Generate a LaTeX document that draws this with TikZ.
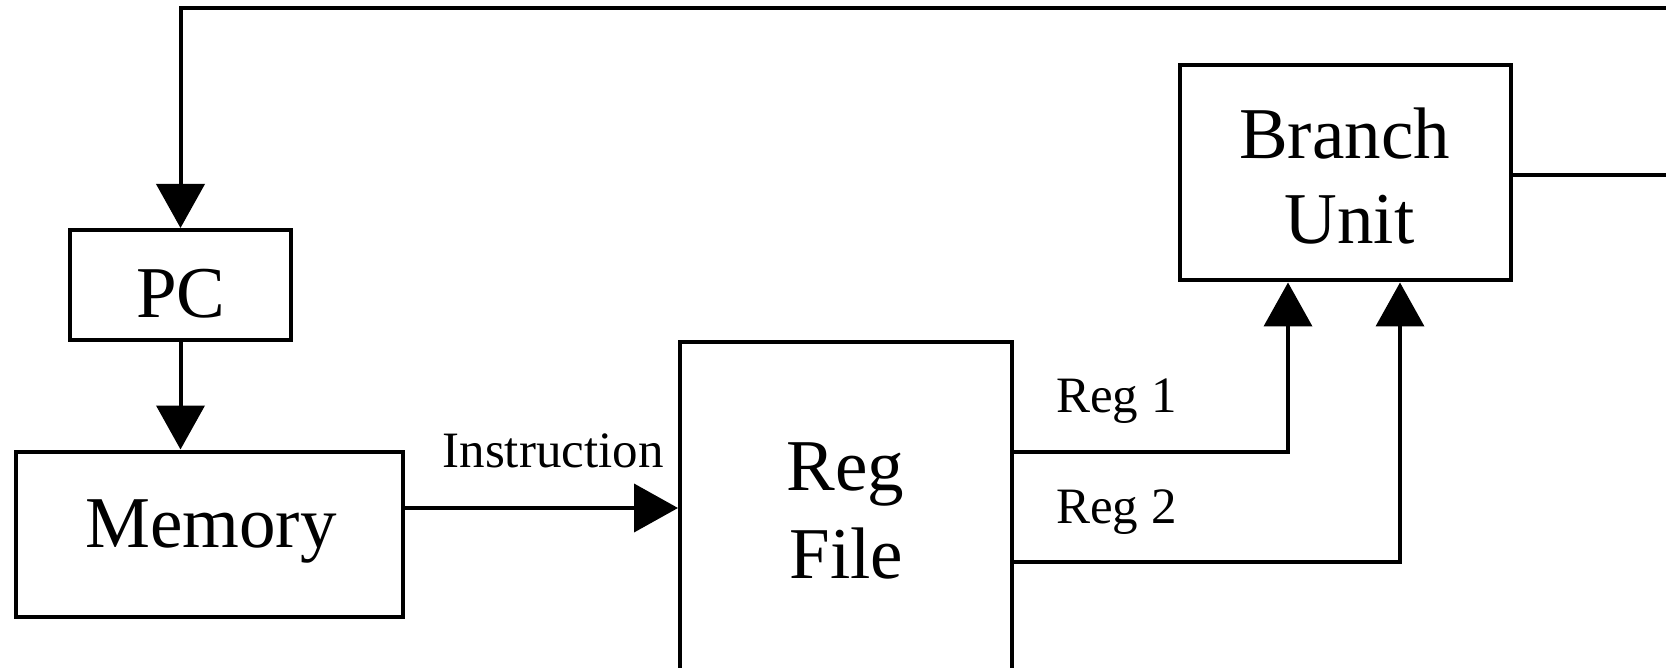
\documentclass[tikz,border=0pt]{standalone}
\usepackage{fontspec}
\setmainfont{Liberation Serif}
\usetikzlibrary{arrows.meta}
\tikzset{
  box/.style={draw, line width=4pt, inner sep=0pt},
  big/.style={font=\fontsize{73}{85}\selectfont, inner sep=0pt, anchor=base},
  small/.style={font=\fontsize{51}{60}\selectfont, inner sep=0pt},
  wire/.style={line width=4pt},
  arr/.style={wire, -{Triangle[length=44pt,width=48pt]}},
}
\begin{document}
\begin{tikzpicture}[x=1pt,y=-1pt]
\clip (0,0) rectangle (1666,668);
% boxes
\node[box, minimum width=221pt, minimum height=110pt] (pc) at (180.5,285) {};
\node[box, minimum width=387pt, minimum height=165pt] (mem) at (209,534) {};
\node[box, minimum width=332pt, minimum height=400pt] (rf) at (846,542) {};
\node[box, minimum width=331pt, minimum height=215.5pt] (bu) at (1345,172.75) {};
% texts
\node[big] (pcT) at (181,318) {PC};
\node[big] (memT) at (211,547) {Memory};
\node[big] (buT1) at (1344.5,159) {Branch};
\node[big] (buT2) at (1349.5,244) {Unit};
\node[big] (rfT1) at (845.5,490) {Reg};
\node[big] (rfT2) at (846.5,578) {File};
\node[small, anchor=base] (ins) at (553,467) {Instruction};
\node[small, anchor=base west] (r1T) at (1056,413) {Reg 1};
\node[small, anchor=base west] (r2T) at (1056,523) {Reg 2};
% helper coordinates
\coordinate (fb) at (1700,8.5);
\coordinate (bo) at (1700,175);
\coordinate (insY) at (0,508);
\coordinate (r1) at (1288,452);
\coordinate (r2) at (1400,562);
% connectors
\draw[arr] (fb) -| (pc.north);
\draw[arr] (pc.south) -- (pc.south |- mem.north);
\draw[arr] (mem.east |- insY) -- (rf.west |- insY);
\draw[arr] (rf.east |- r1) -- (r1) -- (r1 |- bu.south);
\draw[arr] (rf.east |- r2) -- (r2) -- (r2 |- bu.south);
\draw[wire] (bu.east |- bo) -- (bo);
\end{tikzpicture}
\end{document}
